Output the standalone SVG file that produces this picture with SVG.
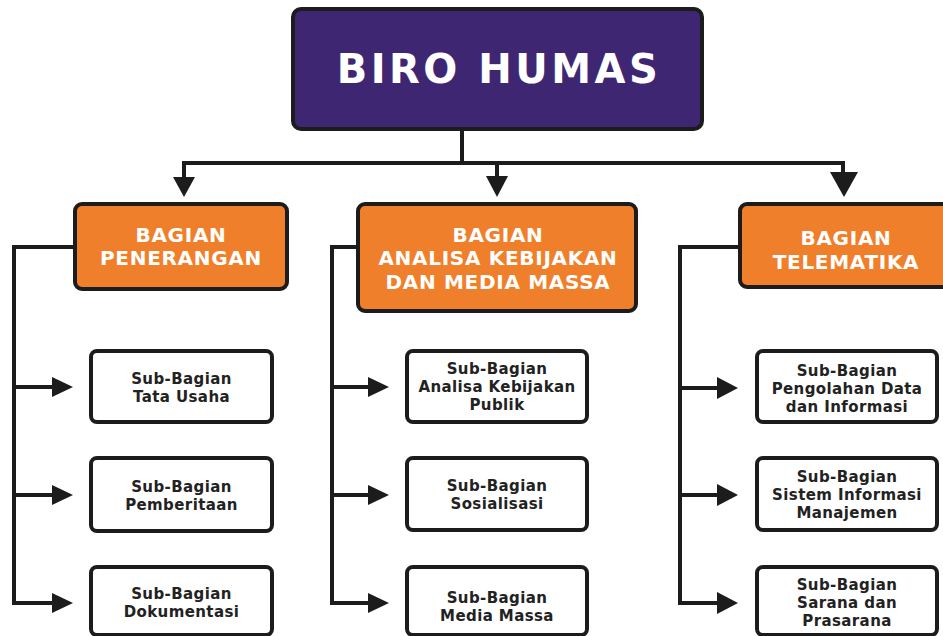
<svg xmlns="http://www.w3.org/2000/svg" width="943" height="636" viewBox="0 0 943 636">
<style>
  .box { stroke: #1c1c1c; stroke-width: 4; }
  .top { fill: #3f2673; }
  .dept { fill: #f07f2b; }
  .sub { fill: #ffffff; }
  .line { fill: none; stroke: #1c1c1c; stroke-width: 4; stroke-linejoin: miter; }
  .head { fill: #1c1c1c; }
  text { font-family: "DejaVu Sans", Verdana, sans-serif; font-weight: bold; text-anchor: middle; }
  .t-top { fill: #ffffff; font-size: 40px; letter-spacing: 3.5px; }
  .t-dept { fill: #ffffff; font-size: 20px; letter-spacing: 0.7px; }
  .t-sub { fill: #222222; font-size: 15px; letter-spacing: 0.4px; }
</style>
<rect width="943" height="636" fill="#ffffff"/>

<g id="connectors">
  <path class="line" d="M462,129 V163"/>
  <path class="line" d="M184,180 V163 H843 V176"/>
  <path class="line" d="M497,163 V180"/>
  <polygon class="head" points="173,177 195,177 184,197"/>
  <polygon class="head" points="486,176 508,176 497,197"/>
  <polygon class="head" points="830,172 858,172 844,197"/>

  <path class="line" d="M75,247 H14 V603 H54"/>
  <path class="line" d="M14,387 H54"/>
  <path class="line" d="M14,495 H54"/>
  <polygon class="head" points="52,377 52,397 73,387"/>
  <polygon class="head" points="52,485 52,505 73,495"/>
  <polygon class="head" points="52,593 52,613 73,603"/>

  <path class="line" d="M358,247 H332 V603 H370"/>
  <path class="line" d="M332,387 H370"/>
  <path class="line" d="M332,495 H370"/>
  <polygon class="head" points="368,377 368,397 389,387"/>
  <polygon class="head" points="368,485 368,505 389,495"/>
  <polygon class="head" points="368,593 368,613 389,603"/>

  <path class="line" d="M740,247 H680 V603 H719"/>
  <path class="line" d="M680,388 H719"/>
  <path class="line" d="M680,495 H719"/>
  <polygon class="head" points="717,377 717,399 738,388"/>
  <polygon class="head" points="717,484 717,506 738,495"/>
  <polygon class="head" points="717,592 717,614 738,603"/>
</g>

<g id="biro-humas">
  <rect class="box top" x="293" y="9" width="409" height="120" rx="8"/>
  <text class="t-top" x="499" y="83">BIRO HUMAS</text>
</g>

<g id="bagian-penerangan">
  <rect class="box dept" x="75" y="204" width="212" height="85" rx="7"/>
  <text class="t-dept" x="181" y="242">BAGIAN</text>
  <text class="t-dept" x="181" y="265">PENERANGAN</text>
</g>

<g id="bagian-analisa">
  <rect class="box dept" x="358" y="204" width="278" height="107" rx="7"/>
  <text class="t-dept" x="498" y="242">BAGIAN</text>
  <text class="t-dept" x="498" y="265">ANALISA KEBIJAKAN</text>
  <text class="t-dept" x="498" y="289">DAN MEDIA MASSA</text>
</g>

<g id="bagian-telematika">
  <rect class="box dept" x="740" y="204" width="215" height="83" rx="7"/>
  <text class="t-dept" x="846" y="245">BAGIAN</text>
  <text class="t-dept" x="846" y="269">TELEMATIKA</text>
</g>

<g id="sub-tata-usaha">
  <rect class="box sub" x="91" y="351" width="181" height="71" rx="6"/>
  <text class="t-sub" x="181.5" y="384">Sub-Bagian</text>
  <text class="t-sub" x="181.5" y="402">Tata Usaha</text>
</g>
<g id="sub-pemberitaan">
  <rect class="box sub" x="91" y="458" width="181" height="73" rx="6"/>
  <text class="t-sub" x="181.5" y="492">Sub-Bagian</text>
  <text class="t-sub" x="181.5" y="510">Pemberitaan</text>
</g>
<g id="sub-dokumentasi">
  <rect class="box sub" x="91" y="567" width="181" height="68" rx="6"/>
  <text class="t-sub" x="181.5" y="599">Sub-Bagian</text>
  <text class="t-sub" x="181.5" y="617">Dokumentasi</text>
</g>

<g id="sub-analisa-kebijakan-publik">
  <rect class="box sub" x="407" y="351" width="180" height="71" rx="6"/>
  <text class="t-sub" x="497" y="374">Sub-Bagian</text>
  <text class="t-sub" x="497" y="392">Analisa Kebijakan</text>
  <text class="t-sub" x="497" y="410">Publik</text>
</g>
<g id="sub-sosialisasi">
  <rect class="box sub" x="407" y="458" width="180" height="72" rx="6"/>
  <text class="t-sub" x="497" y="491">Sub-Bagian</text>
  <text class="t-sub" x="497" y="509">Sosialisasi</text>
</g>
<g id="sub-media-massa">
  <rect class="box sub" x="407" y="567" width="180" height="68" rx="6"/>
  <text class="t-sub" x="497" y="603">Sub-Bagian</text>
  <text class="t-sub" x="497" y="621">Media Massa</text>
</g>

<g id="sub-pengolahan-data">
  <rect class="box sub" x="757" y="351" width="180" height="71" rx="6"/>
  <text class="t-sub" x="847" y="376">Sub-Bagian</text>
  <text class="t-sub" x="847" y="394">Pengolahan Data</text>
  <text class="t-sub" x="847" y="412">dan Informasi</text>
</g>
<g id="sub-sistem-informasi">
  <rect class="box sub" x="757" y="458" width="180" height="72" rx="6"/>
  <text class="t-sub" x="847" y="482">Sub-Bagian</text>
  <text class="t-sub" x="847" y="500">Sistem Informasi</text>
  <text class="t-sub" x="847" y="518">Manajemen</text>
</g>
<g id="sub-sarana-prasarana">
  <rect class="box sub" x="757" y="567" width="180" height="68" rx="6"/>
  <text class="t-sub" x="847" y="590">Sub-Bagian</text>
  <text class="t-sub" x="847" y="608">Sarana dan</text>
  <text class="t-sub" x="847" y="626">Prasarana</text>
</g>
</svg>
